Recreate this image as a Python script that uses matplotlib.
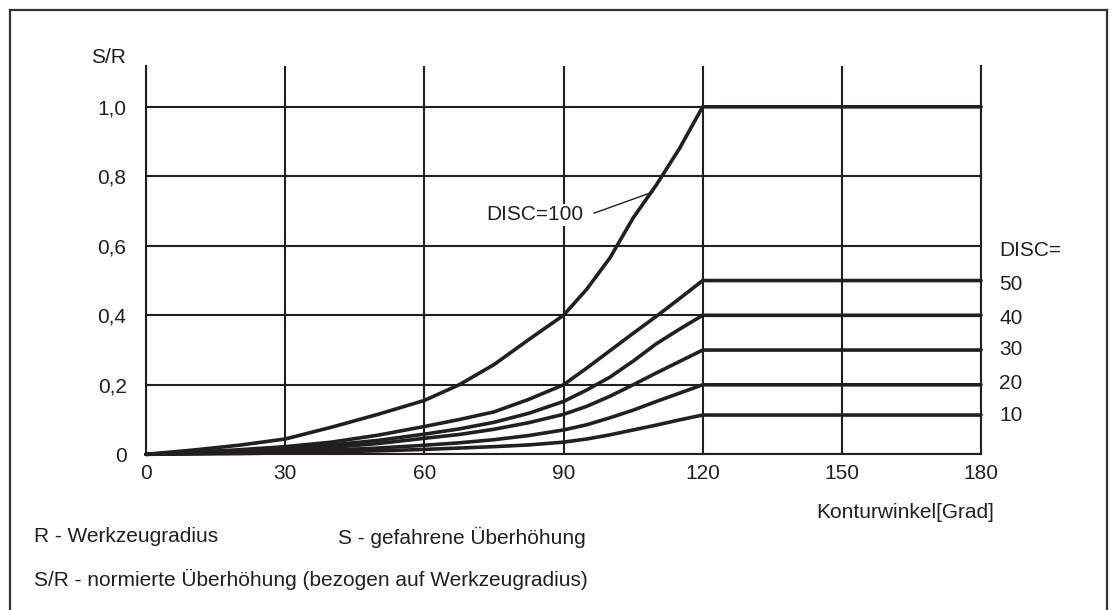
import matplotlib
matplotlib.use("Agg")
import matplotlib.pyplot as plt
from matplotlib.lines import Line2D

plt.rcParams['font.family'] = ['Liberation Sans', 'DejaVu Sans']

# data
winkel = [0, 10, 20, 30, 40, 50, 60, 67.5, 75, 82.5, 90, 95, 100, 105, 110, 115, 120, 180]
disc_100 = [0, 0.012, 0.026, 0.044, 0.078, 0.115, 0.155, 0.200, 0.258, 0.330, 0.400,
            0.475, 0.565, 0.680, 0.775, 0.880, 1.0, 1.0]
disc_50 = [0, 0.006, 0.013, 0.022, 0.035, 0.055, 0.080, 0.100, 0.122, 0.158, 0.200,
           0.248, 0.298, 0.348, 0.397, 0.448, 0.50, 0.50]
disc_40 = [0, 0.004, 0.010, 0.017, 0.027, 0.040, 0.058, 0.073, 0.092, 0.118, 0.152,
           0.185, 0.222, 0.268, 0.318, 0.360, 0.40, 0.40]
disc_30 = [0, 0.003, 0.007, 0.013, 0.020, 0.031, 0.046, 0.057, 0.072, 0.091, 0.115,
           0.138, 0.167, 0.200, 0.234, 0.267, 0.30, 0.30]
disc_20 = [0, 0.002, 0.004, 0.008, 0.012, 0.018, 0.026, 0.033, 0.042, 0.054, 0.070,
           0.085, 0.105, 0.127, 0.152, 0.176, 0.20, 0.20]
disc_10 = [0, 0.001, 0.002, 0.004, 0.007, 0.010, 0.014, 0.018, 0.022, 0.027, 0.035,
           0.044, 0.056, 0.070, 0.084, 0.099, 0.113, 0.113]
disc_labels = ['50', '40', '30', '20', '10']
disc_label_y = [0.49, 0.392, 0.303, 0.205, 0.113]

xticks = [0, 30, 60, 90, 120, 150, 180]
xticklabels = ['0', '30', '60', '90', '120', '150', '180']
yticks = [0, 0.2, 0.4, 0.6, 0.8, 1.0]
yticklabels = ['0', '0,2', '0,4', '0,6', '0,8', '1,0']

dark = '#231f20'
W, H = 1113, 610
fs = 15

fig = plt.figure(figsize=(W / 100, H / 100), dpi=100)
# axes placed to match the reference pixel grid
ax = fig.add_axes([146 / W, 155.7 / H, (981 - 146) / W, (544.2 - 155.7) / H])
ax.set_xlim(0, 180)
ax.set_ylim(0, 1.118)

ax.spines['top'].set_visible(False)
for s in ['left', 'right', 'bottom']:
    ax.spines[s].set_color(dark)
    ax.spines[s].set_linewidth(1.5)

ax.set_xticks(xticks)
ax.set_xticklabels(xticklabels)
ax.set_yticks(yticks)
ax.set_yticklabels(yticklabels)
ax.tick_params(length=0, labelsize=fs, colors=dark)
ax.tick_params(axis='y', pad=14)
ax.tick_params(axis='x', pad=7)
ax.grid(True, color=dark, linewidth=1.5)
ax.set_axisbelow(True)

for vals in [disc_100, disc_50, disc_40, disc_30, disc_20, disc_10]:
    ax.plot(winkel, vals, color=dark, linewidth=2.6, solid_capstyle='round',
            solid_joinstyle='round', clip_on=False, zorder=3)

# DISC=100 label with leader line
ax.text(83.9, 0.689, 'DISC=100', ha='center', va='center', fontsize=fs, color=dark,
        bbox=dict(facecolor='white', edgecolor='none', pad=1), zorder=4)
ax.plot([96.6, 109.3], [0.694, 0.755], color=dark, linewidth=1.0, zorder=4)

# DISC= labels on the right
ax.text(183.9, 0.586, 'DISC=', ha='left', va='center', fontsize=fs, color=dark, clip_on=False)
for lab, yv in zip(disc_labels, disc_label_y):
    ax.text(183.9, yv, lab, ha='left', va='center', fontsize=fs, color=dark, clip_on=False)

ax.text(-4.3, 1.143, 'S/R', ha='right', va='center', fontsize=fs, color=dark, clip_on=False)

fig.text(994 / W, 1 - 513 / H, 'Konturwinkel[Grad]', ha='right', va='center', fontsize=fs, color=dark)
fig.text(34 / W, 1 - 537 / H, 'R - Werkzeugradius', ha='left', va='center', fontsize=fs, color=dark)
fig.text(338 / W, 1 - 537 / H, 'S - gefahrene Überhöhung', ha='left', va='center', fontsize=fs, color=dark)
fig.text(34 / W, 1 - 579 / H, 'S/R - normierte Überhöhung (bezogen auf Werkzeugradius)',
         ha='left', va='center', fontsize=fs, color=dark)

# outer frame (open at the bottom)
frame = dict(color='#333333', linewidth=1.6, transform=fig.transFigure)
fig.add_artist(Line2D([9.5 / W, 1106.5 / W], [1 - 10 / H, 1 - 10 / H], **frame))
fig.add_artist(Line2D([9.5 / W, 9.5 / W], [0, 1 - 10 / H], **frame))
fig.add_artist(Line2D([1106.5 / W, 1106.5 / W], [0, 1 - 10 / H], **frame))

fig.savefig('out.png', dpi=100)
